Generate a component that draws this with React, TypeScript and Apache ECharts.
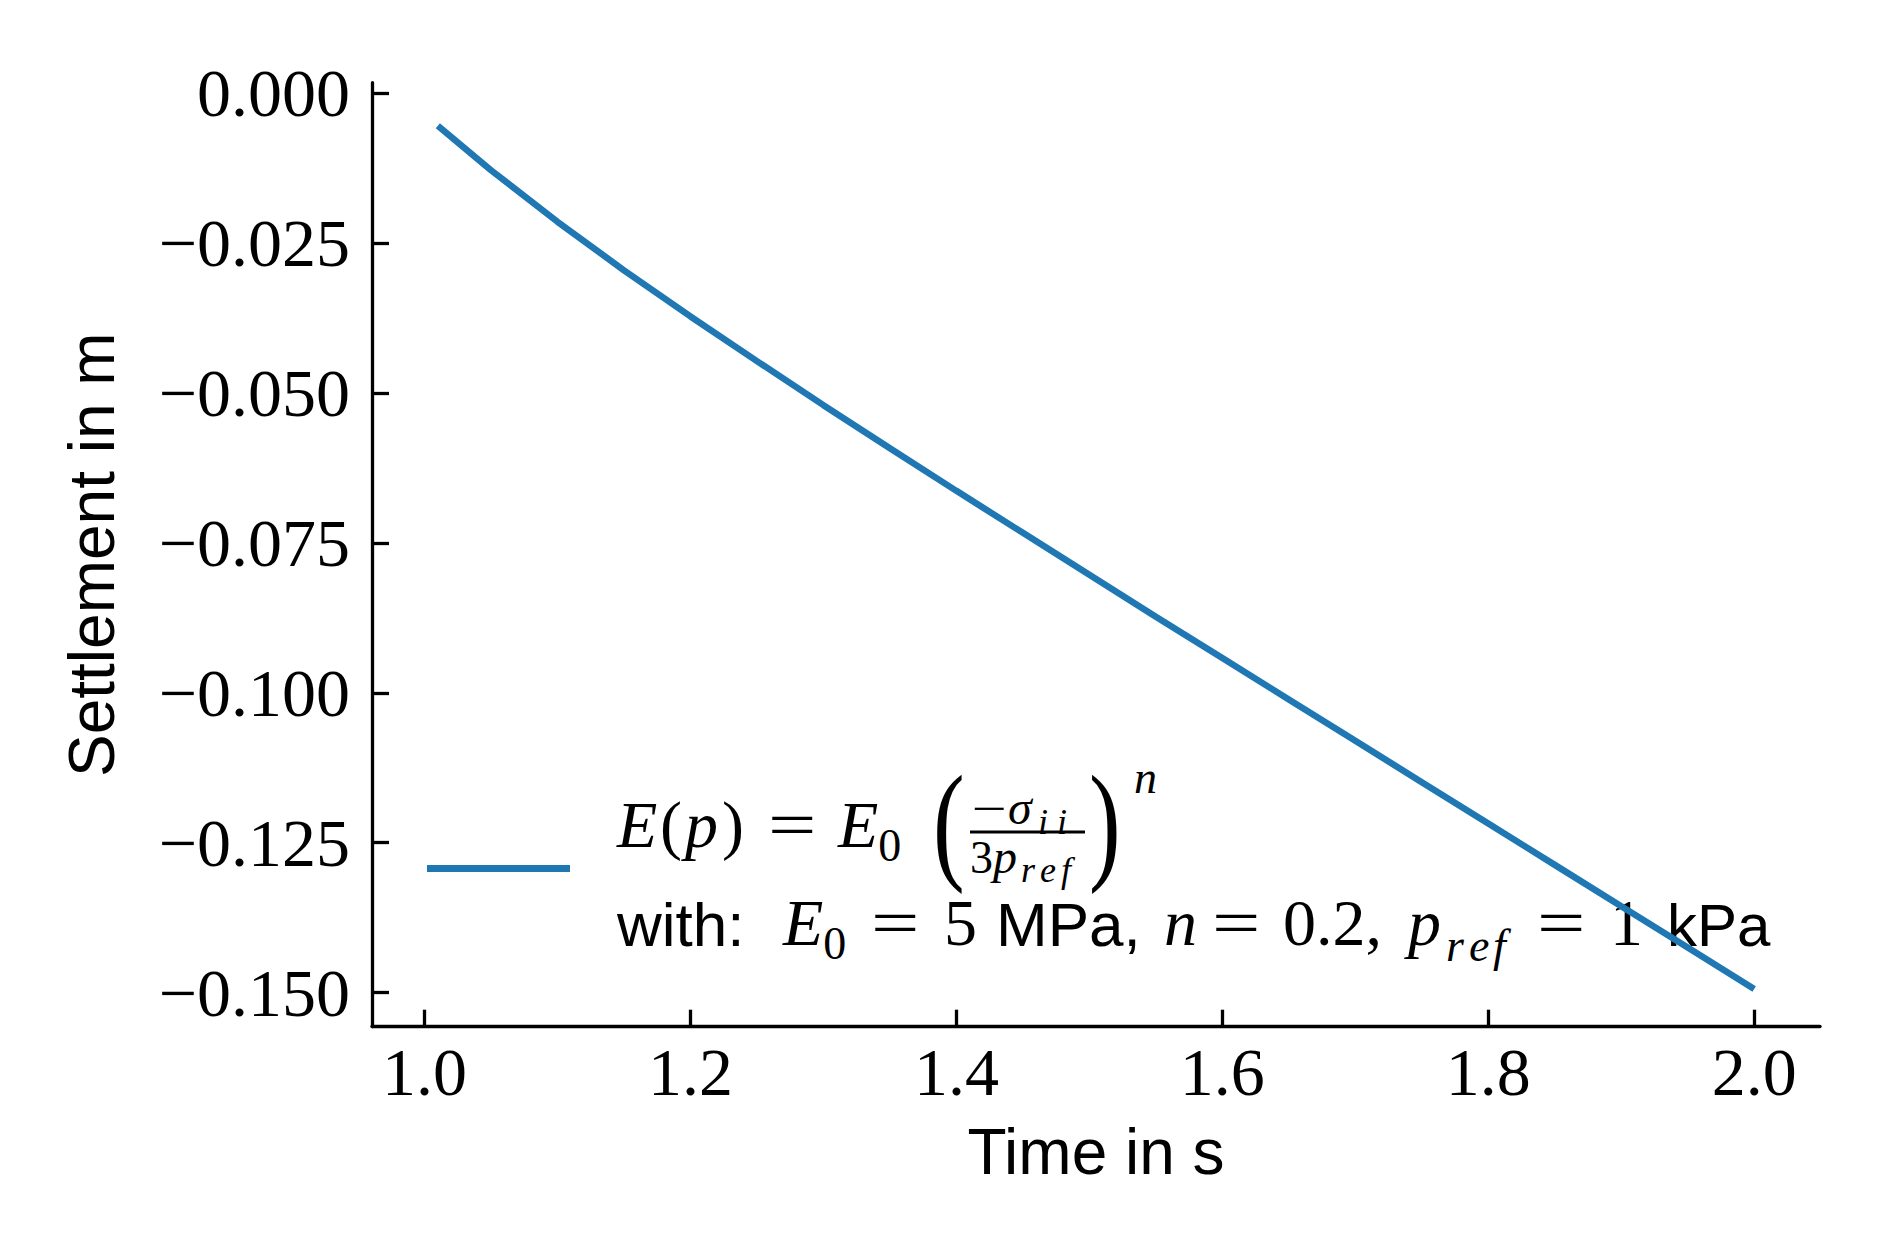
import React, { useEffect, useRef } from 'react';
import * as echarts from 'echarts';

// ---- data ----
const timeValues = [
  1.01, 1.05, 1.1, 1.15, 1.2, 1.25, 1.3, 1.35, 1.4, 1.45, 1.5,
  1.55, 1.6, 1.65, 1.7, 1.75, 1.8, 1.85, 1.9, 1.95, 2.0,
];
const settlementValues = [
  -0.0054, -0.0128, -0.0214, -0.0295, -0.0372, -0.04465, -0.052, -0.0592, -0.0663, -0.0733, -0.0803,
  -0.0873, -0.0942, -0.1011, -0.108, -0.1149, -0.1218, -0.1287, -0.1356, -0.1425, -0.1494,
];
const xTickValues = [1.0, 1.2, 1.4, 1.6, 1.8, 2.0];
const xTickLabels = ['1.0', '1.2', '1.4', '1.6', '1.8', '2.0'];
const yTickValues = [-0.15, -0.125, -0.1, -0.075, -0.05, -0.025, 0];
const yTickLabels = ['\u22120.150', '\u22120.125', '\u22120.100', '\u22120.075', '\u22120.050', '\u22120.025', '0.000'];
const xAxisTitle = 'Time in s';
const yAxisTitle = 'Settlement in m';
const seriesName = 'E(p) = E0 (\u2212\u03c3ii / 3pref)^n  with: E0 = 5 MPa, n = 0.2, pref = 1 kPa';

const SERIF = 'Liberation Serif';
const SANS = 'Liberation Sans';
const LINE_COLOR = '#1f77b4';
const K_MID = 0.43; // offset from baseline to the "middle" anchor, in em

type Frag = { text: string; size: number; sans?: boolean; italic?: boolean; at?: number; dy?: number; sx?: number };

let measureCtx: CanvasRenderingContext2D | null = null;
function measure(f: Frag): number {
  if (!measureCtx) measureCtx = document.createElement('canvas').getContext('2d');
  const ctx = measureCtx!;
  ctx.font = `${f.italic ? 'italic ' : ''}${f.size}px "${f.sans ? SANS : SERIF}"`;
  return ctx.measureText(f.text).width * (f.sx || 1);
}

function textEl(f: Frag, x: number, baseline: number) {
  return {
    type: 'text',
    x,
    y: baseline - K_MID * f.size + (f.dy || 0),
    scaleX: f.sx || 1,
    silent: true,
    style: {
      text: f.text,
      fontSize: f.size,
      fontFamily: f.sans ? SANS : SERIF,
      fontStyle: f.italic ? 'italic' : 'normal',
      fill: '#000',
      textAlign: 'left',
      textVerticalAlign: 'middle',
    },
  };
}

function layoutRow(frags: Frag[], baseline: number) {
  const els: any[] = [];
  let x = 0;
  for (const f of frags) {
    if (f.at !== undefined) x = f.at;
    els.push(textEl(f, x, baseline));
    x += measure(f);
  }
  return els;
}

function buildLegendText() {
  const B = 66;
  const S = 46;
  const T = 36;
  const els: any[] = [];

  // ---- line 1: E(p) = E0 ( -sigma_ii / 3 p_ref )^n ----
  const base1 = 853;
  els.push(...layoutRow([
    { text: 'E', size: B, italic: true, at: 617 },
    { text: '(', size: B, at: 660 },
    { text: 'p', size: B, italic: true, at: 685 },
    { text: ')', size: B, at: 722 },
    { text: '=', size: B, sx: 1.3, at: 768 },
    { text: 'E', size: B, italic: true, at: 838 },
    { text: '0', size: S, dy: 12 },
  ], base1));
  // big parentheses
  els.push(textEl({ text: '(', size: 132, sx: 0.72 }, 933, 879));
  els.push(textEl({ text: ')', size: 132, sx: 0.72 }, 1089, 879));
  // fraction numerator / denominator
  els.push(...layoutRow([
    { text: '\u2212', size: S, sx: 1.35, at: 972 },
    { text: '\u03c3', size: 48, italic: true, at: 1008 },
  ], 828));
  els.push(...layoutRow([
    { text: 'i', size: T, italic: true, at: 1038 },
    { text: 'i', size: T, italic: true, at: 1057 },
  ], 837));
  els.push(...layoutRow([
    { text: '3', size: S, at: 970 },
    { text: 'p', size: 48, italic: true, at: 993 },
  ], 877));
  els.push(...layoutRow([
    { text: 'r', size: T, italic: true, at: 1021 },
    { text: 'e', size: T, italic: true, at: 1040 },
    { text: 'f', size: T, italic: true, at: 1061 },
  ], 885));
  els.push({
    type: 'line', silent: true,
    shape: { x1: 970, y1: 832, x2: 1085, y2: 832 },
    style: { stroke: '#000', lineWidth: 3 },
  });
  els.push(textEl({ text: 'n', size: S, italic: true }, 1134, 797));

  // ---- line 2: with: E0 = 5 MPa, n = 0.2, p_ref = 1 kPa ----
  const base2 = 951;
  els.push(...layoutRow([
    { text: 'with:', size: 62, sans: true, at: 617 },
    { text: 'E', size: B, italic: true, at: 783 },
    { text: '0', size: S, dy: 12 },
    { text: '=', size: B, sx: 1.3, at: 871 },
    { text: '5', size: B, at: 944 },
    { text: 'MPa,', size: 62, sans: true, at: 996 },
    { text: 'n', size: B, italic: true, at: 1164 },
    { text: '=', size: B, sx: 1.3, at: 1212 },
    { text: '0.2,', size: B, at: 1283 },
    { text: 'p', size: B, italic: true, at: 1408 },
    { text: '=', size: B, sx: 1.3, at: 1537 },
    { text: '1', size: B, at: 1610 },
    { text: 'kPa', size: 60, sans: true, at: 1667 },
  ], base2));
  els.push(...layoutRow([
    { text: 'r', size: S, italic: true, at: 1446 },
    { text: 'e', size: S, italic: true, at: 1469 },
    { text: 'f', size: S, italic: true, at: 1493 },
  ], base2 + 14));
  return els;
}

function lookup(values: number[], labels: string[], v: number) {
  const i = values.findIndex((t) => Math.abs(t - v) < 1e-9);
  return i >= 0 ? labels[i] : '';
}

export default function App() {
  const ref = useRef<HTMLDivElement>(null);
  useEffect(() => {
    if (!ref.current) return;
    const chart = echarts.init(ref.current, undefined, { renderer: 'svg' });
    const data = timeValues.map((t, i) => [t, settlementValues[i]]);
    chart.setOption({
      animation: false,
      backgroundColor: '#ffffff',
      grid: { left: 372, top: 82.7, width: 1448, height: 944, containLabel: false },
      xAxis: {
        type: 'value',
        min: 0.9605,
        max: 2.0495,
        name: xAxisTitle,
        nameLocation: 'middle',
        nameGap: 93,
        nameTextStyle: { fontFamily: SANS, fontSize: 64, color: '#000' },
        axisLine: { show: true, onZero: false, lineStyle: { color: '#000', width: 3.3 } },
        axisTick: { show: true, inside: true, length: 17, customValues: xTickValues, lineStyle: { color: '#000', width: 3.3 } },
        axisLabel: {
          show: true, margin: 11, customValues: xTickValues,
          fontFamily: SERIF, fontSize: 68, color: '#000',
          formatter: (v: number) => lookup(xTickValues, xTickLabels, v),
        },
        splitLine: { show: false },
      },
      yAxis: {
        type: 'value',
        min: -0.1557,
        max: 0.0018,
        name: yAxisTitle,
        nameLocation: 'middle',
        nameRotate: 90,
        nameGap: 248,
        nameTextStyle: { fontFamily: SANS, fontSize: 64, color: '#000' },
        axisLine: { show: true, onZero: false, lineStyle: { color: '#000', width: 3.3 } },
        axisTick: { show: true, inside: true, length: 17, customValues: yTickValues, lineStyle: { color: '#000', width: 3.3 } },
        axisLabel: {
          show: true, margin: 22, customValues: yTickValues,
          fontFamily: SERIF, fontSize: 68, color: '#000',
          formatter: (v: number) => lookup(yTickValues, yTickLabels, v),
        },
        splitLine: { show: false },
      },
      legend: {
        show: true,
        left: 427,
        top: 865,
        padding: 0,
        icon: 'rect',
        itemWidth: 143,
        itemHeight: 7,
        data: [seriesName],
        formatter: () => '',
        selectedMode: false,
        textStyle: { fontSize: 1 },
      },
      graphic: buildLegendText(),
      series: [
        {
          name: seriesName,
          type: 'line',
          data,
          showSymbol: false,
          symbol: 'none',
          lineStyle: { color: LINE_COLOR, width: 6.5 },
          itemStyle: { color: LINE_COLOR },
        },
      ],
    });
    return () => chart.dispose();
  }, []);
  return (
    <div
      ref={ref}
      style={{ position: 'absolute', left: 0, top: 0, width: 1889, height: 1259, background: '#fff' }}
    />
  );
}
